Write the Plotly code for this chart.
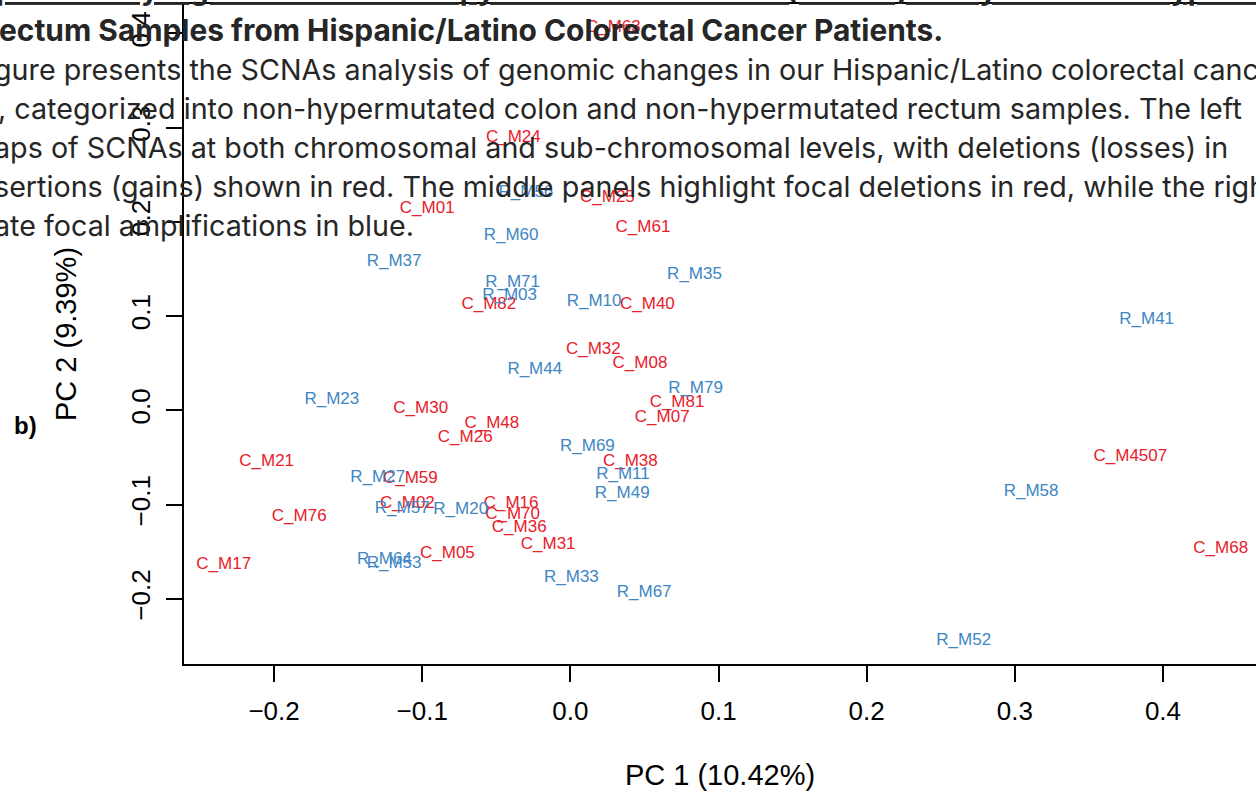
import plotly.graph_objects as go

# PCA sample coordinates (PC1, PC2); C_ = colon, R_ = rectum
colon_names = ["C_M63", "C_M24", "C_M25", "C_M01", "C_M61", "C_M82", "C_M40",
               "C_M32", "C_M08", "C_M81", "C_M30", "C_M07", "C_M48", "C_M26",
               "C_M4507", "C_M21", "C_M38", "C_M59", "C_M02", "C_M16", "C_M70",
               "C_M76", "C_M36", "C_M31", "C_M68", "C_M05", "C_M17"]
colon_pc1 = [0.029, -0.0385, 0.025, -0.0966, 0.049, -0.055, 0.052,
             0.0155, 0.047, 0.072, -0.101, 0.062, -0.053, -0.071,
             0.378, -0.205, 0.0405, -0.108, -0.110, -0.040, -0.039,
             -0.183, -0.0345, -0.015, 0.439, -0.083, -0.234]
colon_pc2 = [0.406, 0.289, 0.225, 0.214, 0.194, 0.112, 0.112,
             0.0647, 0.049, 0.0085, 0.002, -0.0074, -0.0138, -0.0286,
             -0.0488, -0.054, -0.055, -0.073, -0.0987, -0.0987, -0.111,
             -0.113, -0.125, -0.143, -0.147, -0.152, -0.164]

rectum_names = ["R_M56", "R_M60", "R_M37", "R_M35", "R_M71", "R_M03", "R_M10",
                "R_M41", "R_M44", "R_M79", "R_M23", "R_M69", "R_M11", "R_M27",
                "R_M58", "R_M49", "R_M57", "R_M20", "R_M64", "R_M53", "R_M33",
                "R_M67", "R_M52"]
rectum_pc1 = [-0.030, -0.040, -0.119, 0.0838, -0.039, -0.041, 0.016,
              0.389, -0.024, 0.0845, -0.161, 0.0115, 0.0355, -0.130,
              0.311, 0.035, -0.1135, -0.074, -0.1255, -0.119, 0.0007,
              0.0498, 0.2655]
rectum_pc2 = [0.231, 0.185, 0.158, 0.144, 0.135, 0.122, 0.115,
              0.0965, 0.0435, 0.0233, 0.0117, -0.039, -0.068, -0.071,
              -0.086, -0.088, -0.104, -0.105, -0.158, -0.163, -0.177,
              -0.193, -0.244]

x_ticks = [-0.2, -0.1, 0.0, 0.1, 0.2, 0.3, 0.4]
y_ticks = [-0.2, -0.1, 0.0, 0.1, 0.2, 0.3, 0.4]


def fmt(v):
    s = f"{v:.1f}"
    return s.replace("-", "\u2212")


# Caption lines of the surrounding page
caption_head = "plementary Figure 4: Somatic Copy Number Alterations (SCNAs) Analysis in Non-Hypermutated Colon and"
caption_bold = "ectum Samples from Hispanic/Latino Colorectal Cancer Patients."
caption_body = [
    "gure presents the SCNAs analysis of genomic changes in our Hispanic/Latino colorectal cancer",
    ", categorized into non-hypermutated colon and non-hypermutated rectum samples. The left",
    "aps of SCNAs at both chromosomal and sub-chromosomal levels, with deletions (losses) in",
    "sertions (gains) shown in red. The middle panels highlight focal deletions in red, while the right",
    "ate focal amplifications in blue.",
]
# left start of each caption line (px); lines are justified on the page
caption_body_left = [-8, -4, -8, -8, -8]

RED = "#E8202A"
BLUE = "#3E86C4"
TXT = "#262626"
R_FONT = "Liberation Sans, Arial, sans-serif"
DOC_FONT = "Inter, Noto Sans, sans-serif"

W, H = 1256, 795
ML, MR, MT, MB = 184, 0, 4, 131

fig = go.Figure()
fig.add_trace(go.Scatter(
    x=colon_pc1, y=colon_pc2, text=colon_names, mode="text",
    textposition="middle center",
    textfont=dict(family=R_FONT, size=17, color=RED),
    name="Colon", showlegend=False, hoverinfo="text"))
fig.add_trace(go.Scatter(
    x=rectum_pc1, y=rectum_pc2, text=rectum_names, mode="text",
    textposition="middle center",
    textfont=dict(family=R_FONT, size=17, color=BLUE),
    name="Rectum", showlegend=False, hoverinfo="text"))

axis_common = dict(
    showgrid=False, zeroline=False, showline=True, linecolor="black",
    linewidth=2, ticks="outside", ticklen=16, tickwidth=1.5,
    tickcolor="black", tickfont=dict(family=R_FONT, size=26, color="black"),
)

fig.update_xaxes(
    range=[-0.2608, 0.4628], tickvals=x_ticks,
    ticktext=[fmt(v) for v in x_ticks], mirror=True,
    ticklabelstandoff=7,
    title=dict(text="PC 1 (10.42%)", font=dict(family=R_FONT, size=29, color="black"),
               standoff=39),
    **axis_common)
fig.update_yaxes(
    range=[-0.269, 0.431], tickvals=y_ticks,
    ticktext=[fmt(v) for v in y_ticks], mirror=False, tickangle=-90,
    ticklabelstandoff=6,
    title=dict(text="PC 2 (9.39%)", font=dict(family=R_FONT, size=29, color="black"),
               standoff=40),
    **axis_common)

pw, ph = W - ML - MR, H - MT - MB


def px_x(px):
    return (px - ML) / pw


def px_y(py):
    return 1 - (py - MT) / ph


annotations = []
annotations.append(dict(
    text="<b>b)</b>", x=px_x(25), y=px_y(425), xref="paper", yref="paper",
    showarrow=False, xanchor="center", yanchor="middle",
    font=dict(family=R_FONT, size=24, color="black")))

annotations.append(dict(
    text="<b>" + caption_head + "</b>", x=px_x(-6), y=px_y(9),
    xref="paper", yref="paper", showarrow=False, xanchor="left",
    yanchor="bottom", font=dict(family=DOC_FONT, size=29, color=TXT, lineposition="under")))
annotations.append(dict(
    text="<b>" + caption_bold + "</b>", x=px_x(-3), y=px_y(30),
    xref="paper", yref="paper", showarrow=False, xanchor="left",
    yanchor="middle", font=dict(family=DOC_FONT, size=29.9, color=TXT)))
for i, line in enumerate(caption_body):
    annotations.append(dict(
        text=line, x=px_x(caption_body_left[i]), y=px_y(70 + 38.8 * i),
        xref="paper", yref="paper", showarrow=False, xanchor="left",
        yanchor="middle", font=dict(family=DOC_FONT, size=28.7, color=TXT)))

fig.update_layout(
    width=W, height=H,
    margin=dict(l=ML, r=MR, t=MT, b=MB, pad=0),
    paper_bgcolor="white", plot_bgcolor="white",
    annotations=annotations,
)

fig.write_html("out.html")
